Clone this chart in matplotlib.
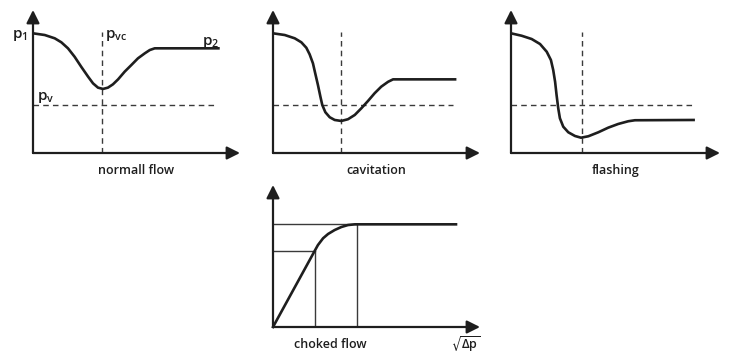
import matplotlib
matplotlib.use("Agg")
import matplotlib.pyplot as plt

plt.rcParams['font.family'] = ['Open Sans', 'DejaVu Sans']
plt.rcParams['font.weight'] = 'semibold'
plt.rcParams['mathtext.default'] = 'regular'

# Pressure profiles along the valve (x: position, y: pressure), 0-100 scale
normal_x = [0, 5.7, 10.5, 13.7, 16.9, 20.1, 23.3, 26.6, 29.0, 31.4, 33.8, 36.2,
            38.6, 41.1, 44.3, 47.5, 50.7, 54.0, 56.4, 58.8, 90.2]
normal_y = [83.7, 82.5, 80.2, 77.4, 73.2, 67.3, 60.3, 53.4, 48.7, 45.7, 44.8, 45.7,
            48.0, 51.5, 56.9, 61.5, 66.2, 69.7, 72.0, 73.2, 73.2]

cavit_x = [0, 5.7, 10.5, 13.7, 16.1, 17.7, 19.3, 20.4, 21.7, 22.9, 23.8, 25.3,
           27.4, 29.8, 33.0, 36.2, 39.5, 42.7, 45.9, 49.1, 52.3, 55.6, 58.0, 88.6]
cavit_y = [83.7, 82.5, 80.2, 77.4, 73.6, 69.0, 62.7, 55.7, 47.6, 39.4, 33.6, 28.5,
           25.0, 23.1, 22.4, 23.6, 26.6, 31.3, 36.4, 41.8, 46.4, 49.8, 51.5, 51.5]

flash_x = [0, 5.1, 9.9, 13.9, 17.1, 19.1, 20.2, 21.1, 21.8, 22.6, 23.4, 25.0,
           27.4, 30.6, 33.5, 37.0, 41.8, 46.5, 51.3, 56.1, 59.3, 88.0]
flash_y = [83.7, 82.0, 79.7, 76.2, 70.8, 65.0, 58.0, 49.8, 40.6, 31.3, 24.3, 18.4,
           14.5, 11.9, 10.7, 11.7, 14.5, 17.7, 20.3, 22.2, 22.9, 23.1]

# Flow rate vs sqrt(delta p)
choke_x = [0, 20.1, 21.7, 24.2, 26.6, 29.8, 33.0, 36.2, 39.5, 88.4]
choke_y = [0, 53.5, 57.7, 62.5, 65.5, 68.3, 70.4, 71.8, 72.3, 72.3]

p_vapour = 33.6          # vapour pressure level
vc_pos = [33.3, 33.0, 34.0]   # vena contracta position per panel
vc_top = 84.6
pv_end = [88.9, 87.0, 87.0]
titles = ["normall flow", "cavitation", "flashing"]
lin_end = (20.4, 53.5)   # end of linear region
choke_pt = (40.6, 72.3)  # onset of fully choked flow

W, H = 729, 358
fig = plt.figure(figsize=(W / 100, H / 100), dpi=100)

ink = '#1e1e1e'
dash_col = '#3a3a3a'


def make_axes(x0, y0, w, h):
    ax = fig.add_axes([x0 / W, (H - y0) / H, w / W, h / H])
    ax.set_xlim(0, 100)
    ax.set_ylim(0, 100)
    ax.axis('off')
    for end in [(100, 0), (0, 100)]:
        ax.annotate('', xy=end, xytext=(0, 0), xycoords='data',
                    arrowprops=dict(arrowstyle='-|>,head_length=0.6,head_width=0.3',
                                    mutation_scale=13, lw=1.6, color=ink,
                                    shrinkA=0, shrinkB=0),
                    annotation_clip=False)
    return ax


panels = [(33, 153, 207, 143), (273, 153, 207, 143), (511, 153, 209, 143)]
curves = [(normal_x, normal_y), (cavit_x, cavit_y), (flash_x, flash_y)]

for i, ((x0, y0, w, h), (cx, cy)) in enumerate(zip(panels, curves)):
    ax = make_axes(x0, y0, w, h)
    ax.plot([vc_pos[i], vc_pos[i]], [0, vc_top], ls=(0, (4, 3)), lw=1.0,
            color=dash_col, clip_on=False)
    ax.plot([0, pv_end[i]], [p_vapour, p_vapour], ls=(0, (4, 3)), lw=1.0,
            color=dash_col, clip_on=False)
    ax.plot(cx, cy, color=ink, lw=1.9, solid_joinstyle='round',
            solid_capstyle='butt', clip_on=False)
    ax.text(50, -12, titles[i], ha='center', va='center', fontsize=9,
            color=ink, clip_on=False)
    if i == 0:
        ax.text(-6.5, 82.5, r'$p_1$', ha='center', va='center', fontsize=11, color=ink)
        ax.text(34.8, 82.0, r'$p_{vc}$', ha='left', va='center', fontsize=11, color=ink)
        ax.text(86.0, 77.6, r'$p_2$', ha='center', va='center', fontsize=11, color=ink)
        ax.text(1.8, 38.5, r'$p_v$', ha='left', va='center', fontsize=11, color=ink)

ax4 = make_axes(273, 327, 207, 142)
ax4.plot([0, choke_pt[0]], [choke_pt[1], choke_pt[1]], lw=1.0, color=dash_col)
ax4.plot([0, lin_end[0]], [lin_end[1], lin_end[1]], lw=1.0, color=dash_col)
ax4.plot([lin_end[0], lin_end[0]], [0, lin_end[1]], lw=1.0, color=dash_col)
ax4.plot([choke_pt[0], choke_pt[0]], [0, choke_pt[1]], lw=1.0, color=dash_col)
ax4.plot(choke_x, choke_y, color=ink, lw=1.9, solid_joinstyle='round', clip_on=False)
ax4.text(27.5, -12.5, "choked flow", ha='center', va='center', fontsize=9,
         color=ink, clip_on=False)
ax4.text(92.8, -12.0, r'$\sqrt{\Delta p}$', ha='center', va='center', fontsize=9,
         color=ink, clip_on=False)

fig.savefig('out.png', dpi=100, facecolor='white')
